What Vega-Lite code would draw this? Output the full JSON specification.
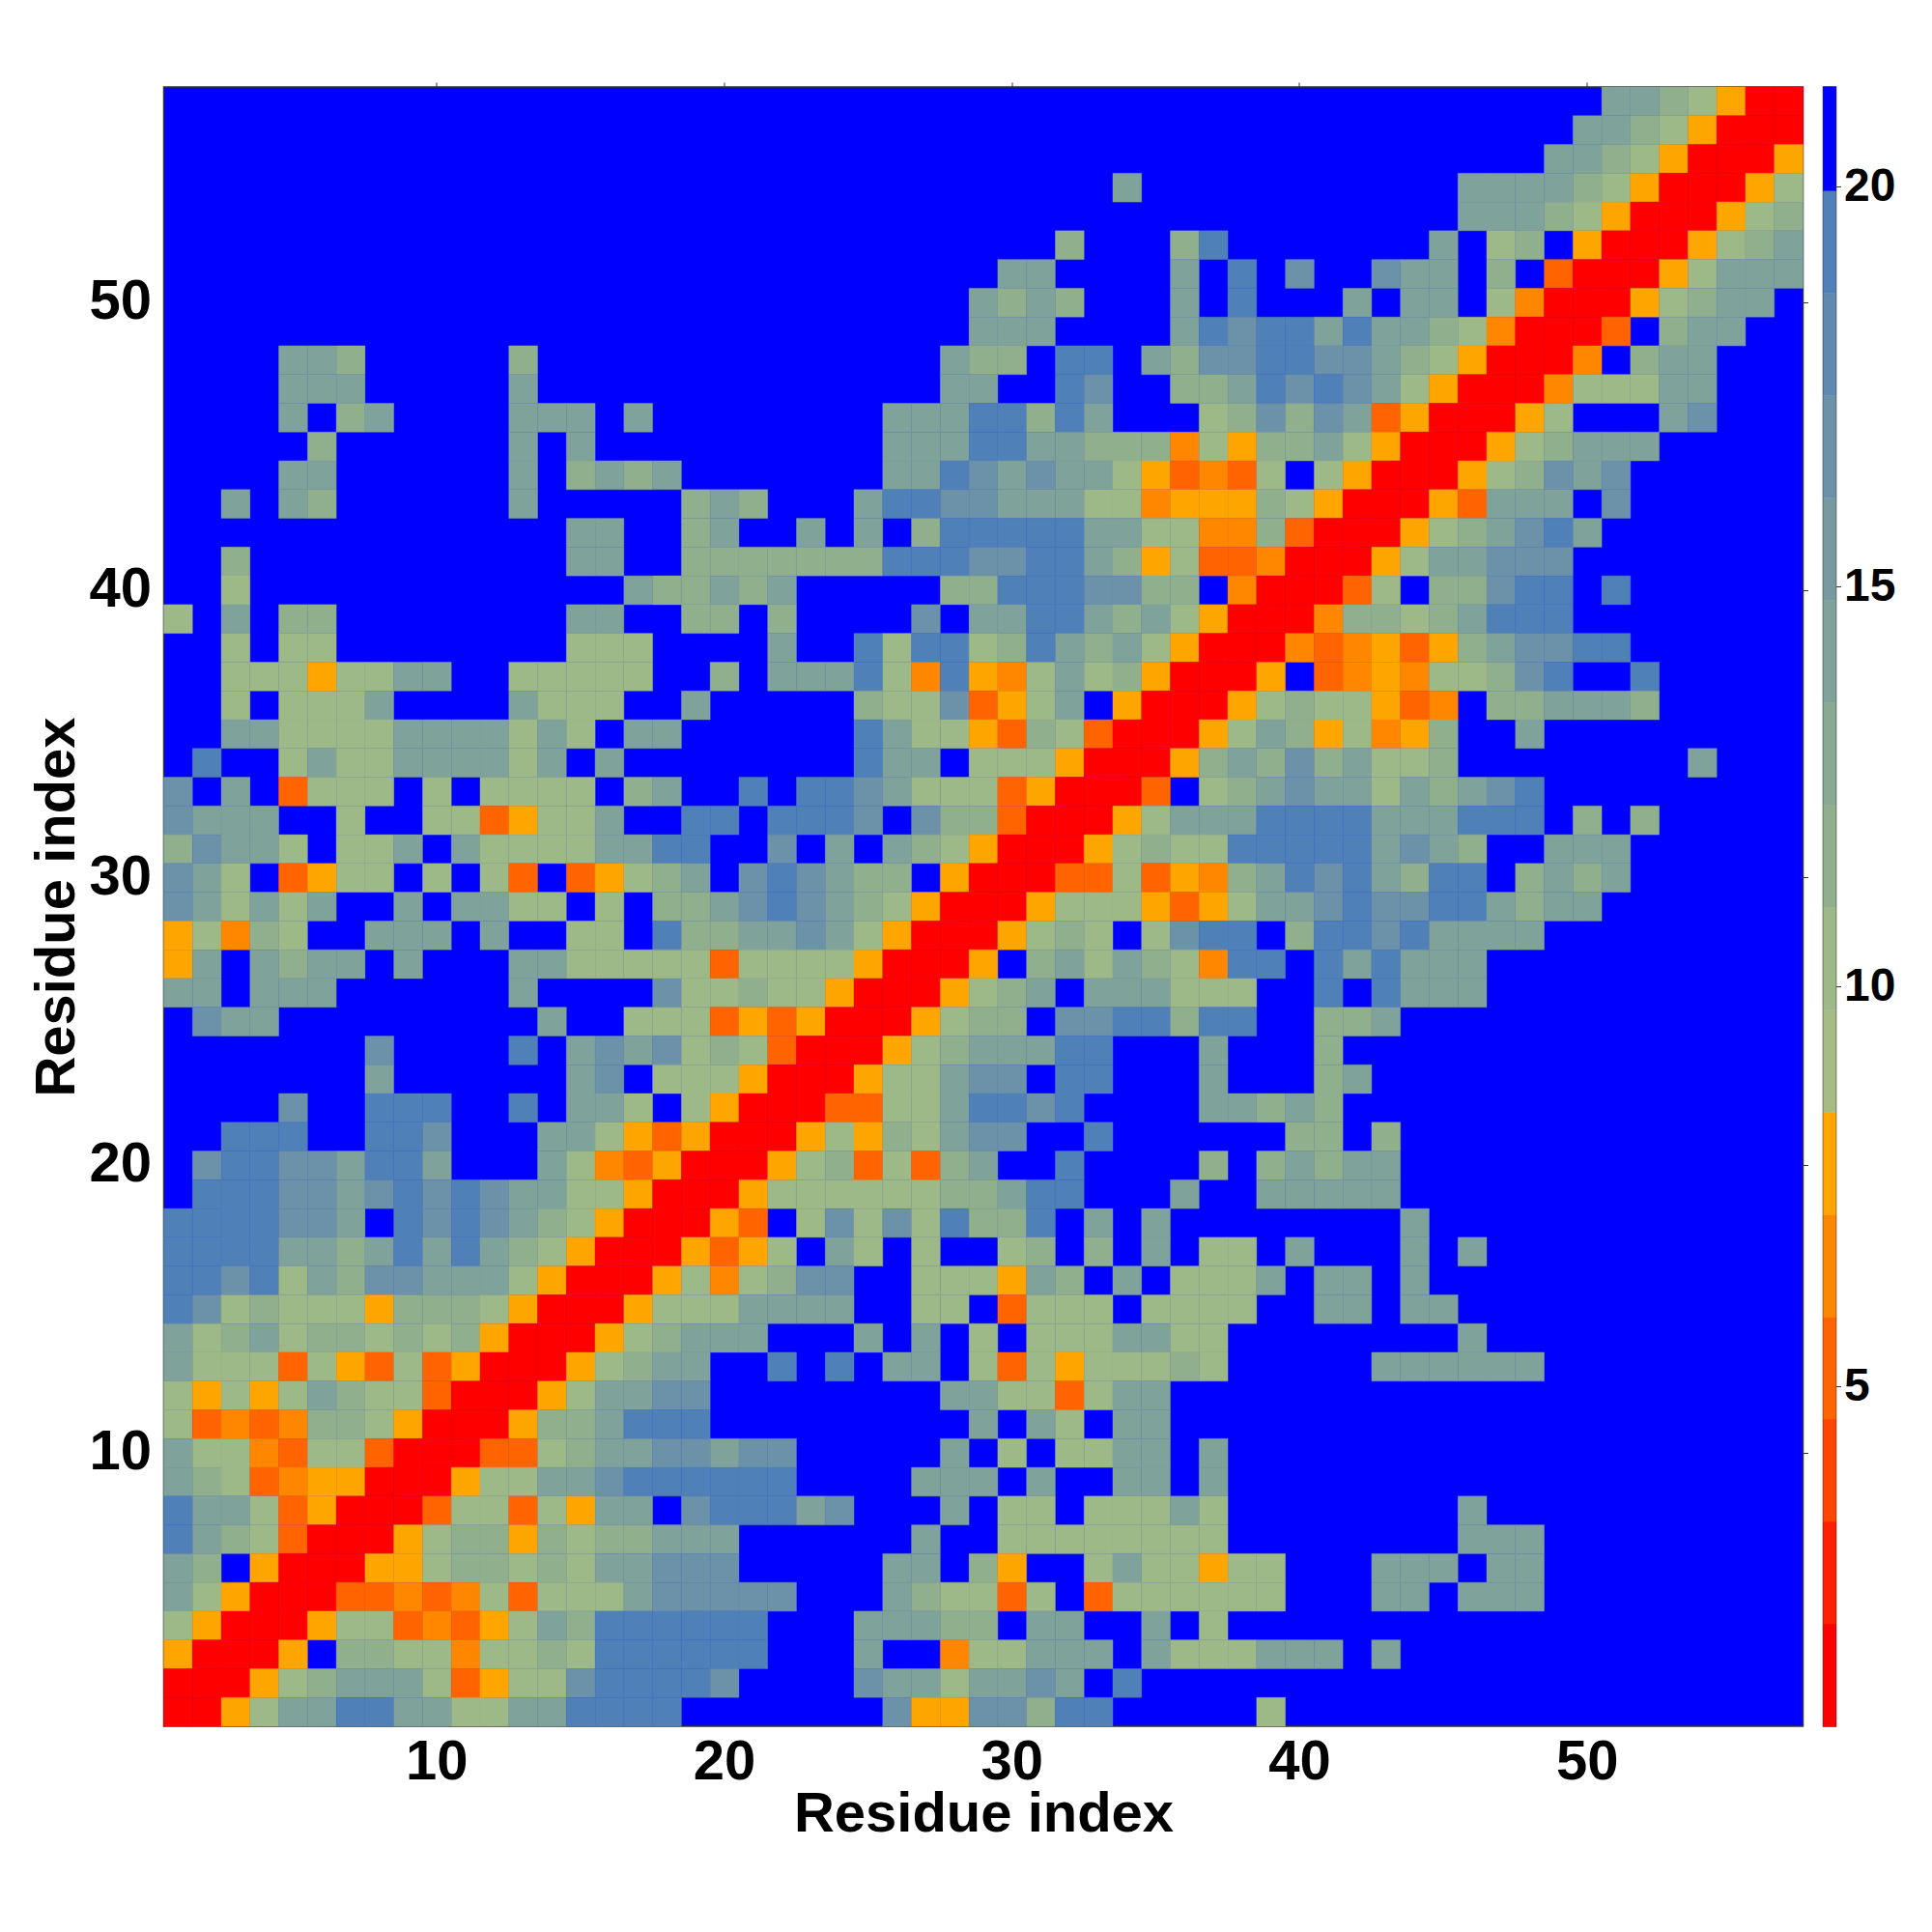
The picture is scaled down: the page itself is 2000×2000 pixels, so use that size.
{"$schema":"https://vega.github.io/schema/vega-lite/v6.json","background":"white","padding":{"left":29.5,"top":83,"right":5,"bottom":5},"config":{"font":"Liberation Sans","concat":{"spacing":13}},"hconcat":[{"width":1697,"height":1697,"view":{"fill":"#0000ff","stroke":"#333333","strokeWidth":1.5},"data":{"values":[
{"x":51,"y":57,"v":14},{"x":52,"y":57,"v":14},{"x":53,"y":57,"v":12},{"x":54,"y":57,"v":10},{"x":55,"y":57,"v":8},{"x":56,"y":57,"v":1},{"x":57,"y":57,"v":1},
{"x":50,"y":56,"v":14},{"x":51,"y":56,"v":14},{"x":52,"y":56,"v":12},{"x":53,"y":56,"v":10},{"x":54,"y":56,"v":8},{"x":55,"y":56,"v":1},{"x":56,"y":56,"v":1},{"x":57,"y":56,"v":1},
{"x":49,"y":55,"v":14},{"x":50,"y":55,"v":14},{"x":51,"y":55,"v":12},{"x":52,"y":55,"v":10},{"x":53,"y":55,"v":8},{"x":54,"y":55,"v":1},{"x":55,"y":55,"v":1},{"x":56,"y":55,"v":1},{"x":57,"y":55,"v":8},
{"x":34,"y":54,"v":14},{"x":46,"y":54,"v":14},{"x":47,"y":54,"v":14},{"x":48,"y":54,"v":14},{"x":49,"y":54,"v":14},{"x":50,"y":54,"v":12},{"x":51,"y":54,"v":10},{"x":52,"y":54,"v":8},{"x":53,"y":54,"v":1},{"x":54,"y":54,"v":1},{"x":55,"y":54,"v":1},{"x":56,"y":54,"v":8},{"x":57,"y":54,"v":10},
{"x":46,"y":53,"v":14},{"x":47,"y":53,"v":14},{"x":48,"y":53,"v":14},{"x":49,"y":53,"v":12},{"x":50,"y":53,"v":10},{"x":51,"y":53,"v":8},{"x":52,"y":53,"v":1},{"x":53,"y":53,"v":1},{"x":54,"y":53,"v":1},{"x":55,"y":53,"v":8},{"x":56,"y":53,"v":10},{"x":57,"y":53,"v":12},
{"x":32,"y":52,"v":12},{"x":36,"y":52,"v":12},{"x":37,"y":52,"v":19},{"x":45,"y":52,"v":14},{"x":47,"y":52,"v":10},{"x":48,"y":52,"v":12},{"x":50,"y":52,"v":8},{"x":51,"y":52,"v":1},{"x":52,"y":52,"v":1},{"x":53,"y":52,"v":1},{"x":54,"y":52,"v":8},{"x":55,"y":52,"v":10},{"x":56,"y":52,"v":12},{"x":57,"y":52,"v":14},
{"x":30,"y":51,"v":14},{"x":31,"y":51,"v":14},{"x":36,"y":51,"v":14},{"x":38,"y":51,"v":19},{"x":40,"y":51,"v":17},{"x":43,"y":51,"v":17},{"x":44,"y":51,"v":14},{"x":45,"y":51,"v":14},{"x":47,"y":51,"v":12},{"x":49,"y":51,"v":5},{"x":50,"y":51,"v":1},{"x":51,"y":51,"v":1},{"x":52,"y":51,"v":1},{"x":53,"y":51,"v":8},{"x":54,"y":51,"v":10},{"x":55,"y":51,"v":14},{"x":56,"y":51,"v":14},{"x":57,"y":51,"v":14},
{"x":29,"y":50,"v":14},{"x":30,"y":50,"v":12},{"x":31,"y":50,"v":14},{"x":32,"y":50,"v":12},{"x":36,"y":50,"v":14},{"x":38,"y":50,"v":19},{"x":42,"y":50,"v":14},{"x":44,"y":50,"v":14},{"x":45,"y":50,"v":14},{"x":47,"y":50,"v":10},{"x":48,"y":50,"v":7},{"x":49,"y":50,"v":1},{"x":50,"y":50,"v":1},{"x":51,"y":50,"v":1},{"x":52,"y":50,"v":8},{"x":53,"y":50,"v":10},{"x":54,"y":50,"v":12},{"x":55,"y":50,"v":14},{"x":56,"y":50,"v":14},
{"x":29,"y":49,"v":14},{"x":30,"y":49,"v":14},{"x":31,"y":49,"v":14},{"x":36,"y":49,"v":14},{"x":37,"y":49,"v":19},{"x":38,"y":49,"v":17},{"x":39,"y":49,"v":19},{"x":40,"y":49,"v":19},{"x":41,"y":49,"v":14},{"x":42,"y":49,"v":19},{"x":43,"y":49,"v":14},{"x":44,"y":49,"v":14},{"x":45,"y":49,"v":12},{"x":46,"y":49,"v":10},{"x":47,"y":49,"v":7},{"x":48,"y":49,"v":1},{"x":49,"y":49,"v":1},{"x":50,"y":49,"v":1},{"x":51,"y":49,"v":5},{"x":53,"y":49,"v":12},{"x":54,"y":49,"v":14},{"x":55,"y":49,"v":14},
{"x":5,"y":48,"v":14},{"x":6,"y":48,"v":14},{"x":7,"y":48,"v":12},{"x":13,"y":48,"v":12},{"x":28,"y":48,"v":14},{"x":29,"y":48,"v":12},{"x":30,"y":48,"v":12},{"x":32,"y":48,"v":19},{"x":33,"y":48,"v":19},{"x":35,"y":48,"v":14},{"x":36,"y":48,"v":12},{"x":37,"y":48,"v":17},{"x":38,"y":48,"v":17},{"x":39,"y":48,"v":19},{"x":40,"y":48,"v":19},{"x":41,"y":48,"v":17},{"x":42,"y":48,"v":17},{"x":43,"y":48,"v":14},{"x":44,"y":48,"v":12},{"x":45,"y":48,"v":10},{"x":46,"y":48,"v":8},{"x":47,"y":48,"v":1},{"x":48,"y":48,"v":1},{"x":49,"y":48,"v":1},{"x":50,"y":48,"v":7},{"x":52,"y":48,"v":12},{"x":53,"y":48,"v":14},{"x":54,"y":48,"v":14},
{"x":5,"y":47,"v":14},{"x":6,"y":47,"v":14},{"x":7,"y":47,"v":14},{"x":13,"y":47,"v":14},{"x":28,"y":47,"v":14},{"x":29,"y":47,"v":14},{"x":32,"y":47,"v":19},{"x":33,"y":47,"v":17},{"x":36,"y":47,"v":12},{"x":37,"y":47,"v":12},{"x":38,"y":47,"v":14},{"x":39,"y":47,"v":19},{"x":40,"y":47,"v":17},{"x":41,"y":47,"v":19},{"x":42,"y":47,"v":17},{"x":43,"y":47,"v":14},{"x":44,"y":47,"v":10},{"x":45,"y":47,"v":8},{"x":46,"y":47,"v":1},{"x":47,"y":47,"v":1},{"x":48,"y":47,"v":1},{"x":49,"y":47,"v":7},{"x":50,"y":47,"v":10},{"x":51,"y":47,"v":10},{"x":52,"y":47,"v":10},{"x":53,"y":47,"v":14},{"x":54,"y":47,"v":14},
{"x":5,"y":46,"v":14},{"x":7,"y":46,"v":12},{"x":8,"y":46,"v":14},{"x":13,"y":46,"v":14},{"x":14,"y":46,"v":14},{"x":15,"y":46,"v":14},{"x":17,"y":46,"v":14},{"x":26,"y":46,"v":14},{"x":27,"y":46,"v":14},{"x":28,"y":46,"v":14},{"x":29,"y":46,"v":19},{"x":30,"y":46,"v":19},{"x":31,"y":46,"v":12},{"x":32,"y":46,"v":19},{"x":33,"y":46,"v":14},{"x":37,"y":46,"v":10},{"x":38,"y":46,"v":12},{"x":39,"y":46,"v":17},{"x":40,"y":46,"v":12},{"x":41,"y":46,"v":17},{"x":42,"y":46,"v":14},{"x":43,"y":46,"v":5},{"x":44,"y":46,"v":8},{"x":45,"y":46,"v":1},{"x":46,"y":46,"v":1},{"x":47,"y":46,"v":1},{"x":48,"y":46,"v":8},{"x":49,"y":46,"v":10},{"x":53,"y":46,"v":14},{"x":54,"y":46,"v":17},
{"x":6,"y":45,"v":12},{"x":13,"y":45,"v":14},{"x":15,"y":45,"v":14},{"x":26,"y":45,"v":14},{"x":27,"y":45,"v":14},{"x":28,"y":45,"v":14},{"x":29,"y":45,"v":19},{"x":30,"y":45,"v":19},{"x":31,"y":45,"v":14},{"x":32,"y":45,"v":14},{"x":33,"y":45,"v":12},{"x":34,"y":45,"v":12},{"x":35,"y":45,"v":12},{"x":36,"y":45,"v":7},{"x":37,"y":45,"v":10},{"x":38,"y":45,"v":8},{"x":39,"y":45,"v":12},{"x":40,"y":45,"v":12},{"x":41,"y":45,"v":14},{"x":42,"y":45,"v":10},{"x":43,"y":45,"v":8},{"x":44,"y":45,"v":1},{"x":45,"y":45,"v":1},{"x":46,"y":45,"v":1},{"x":47,"y":45,"v":8},{"x":48,"y":45,"v":10},{"x":49,"y":45,"v":12},{"x":50,"y":45,"v":14},{"x":51,"y":45,"v":14},{"x":52,"y":45,"v":14},
{"x":5,"y":44,"v":14},{"x":6,"y":44,"v":14},{"x":13,"y":44,"v":14},{"x":15,"y":44,"v":12},{"x":16,"y":44,"v":14},{"x":17,"y":44,"v":12},{"x":18,"y":44,"v":14},{"x":26,"y":44,"v":14},{"x":27,"y":44,"v":14},{"x":28,"y":44,"v":19},{"x":29,"y":44,"v":17},{"x":30,"y":44,"v":14},{"x":31,"y":44,"v":17},{"x":32,"y":44,"v":14},{"x":33,"y":44,"v":14},{"x":34,"y":44,"v":10},{"x":35,"y":44,"v":8},{"x":36,"y":44,"v":5},{"x":37,"y":44,"v":7},{"x":38,"y":44,"v":5},{"x":39,"y":44,"v":10},{"x":41,"y":44,"v":10},{"x":42,"y":44,"v":8},{"x":43,"y":44,"v":1},{"x":44,"y":44,"v":1},{"x":45,"y":44,"v":1},{"x":46,"y":44,"v":8},{"x":47,"y":44,"v":10},{"x":48,"y":44,"v":12},{"x":49,"y":44,"v":17},{"x":50,"y":44,"v":14},{"x":51,"y":44,"v":17},
{"x":3,"y":43,"v":14},{"x":5,"y":43,"v":14},{"x":6,"y":43,"v":12},{"x":13,"y":43,"v":14},{"x":19,"y":43,"v":12},{"x":20,"y":43,"v":14},{"x":21,"y":43,"v":12},{"x":25,"y":43,"v":14},{"x":26,"y":43,"v":19},{"x":27,"y":43,"v":19},{"x":28,"y":43,"v":17},{"x":29,"y":43,"v":17},{"x":30,"y":43,"v":14},{"x":31,"y":43,"v":14},{"x":32,"y":43,"v":14},{"x":33,"y":43,"v":10},{"x":34,"y":43,"v":10},{"x":35,"y":43,"v":7},{"x":36,"y":43,"v":8},{"x":37,"y":43,"v":8},{"x":38,"y":43,"v":8},{"x":39,"y":43,"v":12},{"x":40,"y":43,"v":10},{"x":41,"y":43,"v":8},{"x":42,"y":43,"v":1},{"x":43,"y":43,"v":1},{"x":44,"y":43,"v":1},{"x":45,"y":43,"v":8},{"x":46,"y":43,"v":5},{"x":47,"y":43,"v":14},{"x":48,"y":43,"v":14},{"x":49,"y":43,"v":14},{"x":51,"y":43,"v":17},
{"x":15,"y":42,"v":14},{"x":16,"y":42,"v":14},{"x":19,"y":42,"v":12},{"x":20,"y":42,"v":14},{"x":23,"y":42,"v":14},{"x":25,"y":42,"v":14},{"x":27,"y":42,"v":12},{"x":28,"y":42,"v":19},{"x":29,"y":42,"v":19},{"x":30,"y":42,"v":19},{"x":31,"y":42,"v":19},{"x":32,"y":42,"v":19},{"x":33,"y":42,"v":14},{"x":34,"y":42,"v":14},{"x":35,"y":42,"v":10},{"x":36,"y":42,"v":10},{"x":37,"y":42,"v":7},{"x":38,"y":42,"v":7},{"x":39,"y":42,"v":12},{"x":40,"y":42,"v":5},{"x":41,"y":42,"v":1},{"x":42,"y":42,"v":1},{"x":43,"y":42,"v":1},{"x":44,"y":42,"v":8},{"x":45,"y":42,"v":10},{"x":46,"y":42,"v":12},{"x":47,"y":42,"v":14},{"x":48,"y":42,"v":17},{"x":49,"y":42,"v":19},{"x":50,"y":42,"v":14},
{"x":3,"y":41,"v":12},{"x":15,"y":41,"v":14},{"x":16,"y":41,"v":14},{"x":19,"y":41,"v":12},{"x":20,"y":41,"v":12},{"x":21,"y":41,"v":12},{"x":22,"y":41,"v":12},{"x":23,"y":41,"v":12},{"x":24,"y":41,"v":12},{"x":25,"y":41,"v":12},{"x":26,"y":41,"v":19},{"x":27,"y":41,"v":19},{"x":28,"y":41,"v":19},{"x":29,"y":41,"v":17},{"x":30,"y":41,"v":17},{"x":31,"y":41,"v":19},{"x":32,"y":41,"v":19},{"x":33,"y":41,"v":14},{"x":34,"y":41,"v":12},{"x":35,"y":41,"v":8},{"x":36,"y":41,"v":10},{"x":37,"y":41,"v":5},{"x":38,"y":41,"v":5},{"x":39,"y":41,"v":7},{"x":40,"y":41,"v":1},{"x":41,"y":41,"v":1},{"x":42,"y":41,"v":1},{"x":43,"y":41,"v":8},{"x":44,"y":41,"v":10},{"x":45,"y":41,"v":14},{"x":46,"y":41,"v":14},{"x":47,"y":41,"v":17},{"x":48,"y":41,"v":17},{"x":49,"y":41,"v":17},
{"x":3,"y":40,"v":10},{"x":17,"y":40,"v":14},{"x":18,"y":40,"v":12},{"x":19,"y":40,"v":12},{"x":20,"y":40,"v":14},{"x":21,"y":40,"v":12},{"x":22,"y":40,"v":14},{"x":28,"y":40,"v":12},{"x":29,"y":40,"v":12},{"x":30,"y":40,"v":19},{"x":31,"y":40,"v":19},{"x":32,"y":40,"v":19},{"x":33,"y":40,"v":17},{"x":34,"y":40,"v":17},{"x":35,"y":40,"v":12},{"x":36,"y":40,"v":12},{"x":38,"y":40,"v":7},{"x":39,"y":40,"v":1},{"x":40,"y":40,"v":1},{"x":41,"y":40,"v":1},{"x":42,"y":40,"v":5},{"x":43,"y":40,"v":10},{"x":45,"y":40,"v":12},{"x":46,"y":40,"v":12},{"x":47,"y":40,"v":17},{"x":48,"y":40,"v":19},{"x":49,"y":40,"v":19},{"x":51,"y":40,"v":19},
{"x":1,"y":39,"v":10},{"x":3,"y":39,"v":14},{"x":5,"y":39,"v":12},{"x":6,"y":39,"v":12},{"x":15,"y":39,"v":14},{"x":16,"y":39,"v":14},{"x":19,"y":39,"v":12},{"x":20,"y":39,"v":12},{"x":22,"y":39,"v":12},{"x":27,"y":39,"v":17},{"x":29,"y":39,"v":14},{"x":30,"y":39,"v":14},{"x":31,"y":39,"v":19},{"x":32,"y":39,"v":19},{"x":33,"y":39,"v":14},{"x":34,"y":39,"v":12},{"x":35,"y":39,"v":14},{"x":36,"y":39,"v":10},{"x":37,"y":39,"v":8},{"x":38,"y":39,"v":1},{"x":39,"y":39,"v":1},{"x":40,"y":39,"v":1},{"x":41,"y":39,"v":7},{"x":42,"y":39,"v":12},{"x":43,"y":39,"v":12},{"x":44,"y":39,"v":10},{"x":45,"y":39,"v":12},{"x":46,"y":39,"v":14},{"x":47,"y":39,"v":19},{"x":48,"y":39,"v":19},{"x":49,"y":39,"v":19},
{"x":3,"y":38,"v":10},{"x":5,"y":38,"v":10},{"x":6,"y":38,"v":10},{"x":15,"y":38,"v":10},{"x":16,"y":38,"v":10},{"x":17,"y":38,"v":10},{"x":22,"y":38,"v":14},{"x":25,"y":38,"v":19},{"x":26,"y":38,"v":10},{"x":27,"y":38,"v":19},{"x":28,"y":38,"v":19},{"x":29,"y":38,"v":10},{"x":30,"y":38,"v":12},{"x":31,"y":38,"v":19},{"x":32,"y":38,"v":14},{"x":33,"y":38,"v":12},{"x":34,"y":38,"v":14},{"x":35,"y":38,"v":10},{"x":36,"y":38,"v":8},{"x":37,"y":38,"v":1},{"x":38,"y":38,"v":1},{"x":39,"y":38,"v":1},{"x":40,"y":38,"v":7},{"x":41,"y":38,"v":5},{"x":42,"y":38,"v":7},{"x":43,"y":38,"v":8},{"x":44,"y":38,"v":5},{"x":45,"y":38,"v":8},{"x":46,"y":38,"v":12},{"x":47,"y":38,"v":14},{"x":48,"y":38,"v":17},{"x":49,"y":38,"v":17},{"x":50,"y":38,"v":19},{"x":51,"y":38,"v":19},
{"x":3,"y":37,"v":10},{"x":4,"y":37,"v":10},{"x":5,"y":37,"v":10},{"x":6,"y":37,"v":8},{"x":7,"y":37,"v":10},{"x":8,"y":37,"v":10},{"x":9,"y":37,"v":14},{"x":10,"y":37,"v":14},{"x":13,"y":37,"v":10},{"x":14,"y":37,"v":10},{"x":15,"y":37,"v":10},{"x":16,"y":37,"v":10},{"x":17,"y":37,"v":10},{"x":20,"y":37,"v":12},{"x":22,"y":37,"v":14},{"x":23,"y":37,"v":14},{"x":24,"y":37,"v":14},{"x":25,"y":37,"v":19},{"x":26,"y":37,"v":10},{"x":27,"y":37,"v":7},{"x":28,"y":37,"v":19},{"x":29,"y":37,"v":8},{"x":30,"y":37,"v":7},{"x":31,"y":37,"v":10},{"x":32,"y":37,"v":14},{"x":33,"y":37,"v":10},{"x":34,"y":37,"v":12},{"x":35,"y":37,"v":8},{"x":36,"y":37,"v":1},{"x":37,"y":37,"v":1},{"x":38,"y":37,"v":1},{"x":39,"y":37,"v":8},{"x":41,"y":37,"v":5},{"x":42,"y":37,"v":7},{"x":43,"y":37,"v":8},{"x":44,"y":37,"v":7},{"x":45,"y":37,"v":10},{"x":46,"y":37,"v":10},{"x":47,"y":37,"v":12},{"x":48,"y":37,"v":17},{"x":49,"y":37,"v":19},{"x":52,"y":37,"v":19},
{"x":3,"y":36,"v":10},{"x":5,"y":36,"v":10},{"x":6,"y":36,"v":10},{"x":7,"y":36,"v":10},{"x":8,"y":36,"v":14},{"x":13,"y":36,"v":14},{"x":14,"y":36,"v":10},{"x":15,"y":36,"v":10},{"x":16,"y":36,"v":10},{"x":19,"y":36,"v":14},{"x":25,"y":36,"v":12},{"x":26,"y":36,"v":10},{"x":27,"y":36,"v":10},{"x":28,"y":36,"v":17},{"x":29,"y":36,"v":5},{"x":30,"y":36,"v":8},{"x":31,"y":36,"v":10},{"x":32,"y":36,"v":14},{"x":34,"y":36,"v":8},{"x":35,"y":36,"v":1},{"x":36,"y":36,"v":1},{"x":37,"y":36,"v":1},{"x":38,"y":36,"v":8},{"x":39,"y":36,"v":10},{"x":40,"y":36,"v":12},{"x":41,"y":36,"v":10},{"x":42,"y":36,"v":10},{"x":43,"y":36,"v":8},{"x":44,"y":36,"v":5},{"x":45,"y":36,"v":7},{"x":47,"y":36,"v":12},{"x":48,"y":36,"v":12},{"x":49,"y":36,"v":14},{"x":50,"y":36,"v":14},{"x":51,"y":36,"v":14},{"x":52,"y":36,"v":12},
{"x":3,"y":35,"v":14},{"x":4,"y":35,"v":14},{"x":5,"y":35,"v":10},{"x":6,"y":35,"v":10},{"x":7,"y":35,"v":10},{"x":8,"y":35,"v":10},{"x":9,"y":35,"v":14},{"x":10,"y":35,"v":14},{"x":11,"y":35,"v":14},{"x":12,"y":35,"v":14},{"x":13,"y":35,"v":10},{"x":14,"y":35,"v":14},{"x":15,"y":35,"v":10},{"x":17,"y":35,"v":14},{"x":18,"y":35,"v":14},{"x":25,"y":35,"v":19},{"x":26,"y":35,"v":14},{"x":27,"y":35,"v":10},{"x":28,"y":35,"v":10},{"x":29,"y":35,"v":8},{"x":30,"y":35,"v":5},{"x":31,"y":35,"v":12},{"x":32,"y":35,"v":10},{"x":33,"y":35,"v":5},{"x":34,"y":35,"v":1},{"x":35,"y":35,"v":1},{"x":36,"y":35,"v":1},{"x":37,"y":35,"v":8},{"x":38,"y":35,"v":10},{"x":39,"y":35,"v":14},{"x":40,"y":35,"v":12},{"x":41,"y":35,"v":8},{"x":42,"y":35,"v":10},{"x":43,"y":35,"v":7},{"x":44,"y":35,"v":8},{"x":45,"y":35,"v":12},{"x":48,"y":35,"v":14},
{"x":2,"y":34,"v":19},{"x":5,"y":34,"v":10},{"x":6,"y":34,"v":14},{"x":7,"y":34,"v":10},{"x":8,"y":34,"v":10},{"x":9,"y":34,"v":14},{"x":10,"y":34,"v":14},{"x":11,"y":34,"v":14},{"x":12,"y":34,"v":14},{"x":13,"y":34,"v":10},{"x":14,"y":34,"v":14},{"x":16,"y":34,"v":14},{"x":25,"y":34,"v":19},{"x":26,"y":34,"v":14},{"x":27,"y":34,"v":14},{"x":29,"y":34,"v":10},{"x":30,"y":34,"v":10},{"x":31,"y":34,"v":10},{"x":32,"y":34,"v":8},{"x":33,"y":34,"v":1},{"x":34,"y":34,"v":1},{"x":35,"y":34,"v":1},{"x":36,"y":34,"v":8},{"x":37,"y":34,"v":12},{"x":38,"y":34,"v":14},{"x":39,"y":34,"v":12},{"x":40,"y":34,"v":17},{"x":41,"y":34,"v":12},{"x":42,"y":34,"v":14},{"x":43,"y":34,"v":10},{"x":44,"y":34,"v":10},{"x":45,"y":34,"v":12},{"x":54,"y":34,"v":14},
{"x":1,"y":33,"v":17},{"x":3,"y":33,"v":14},{"x":5,"y":33,"v":5},{"x":6,"y":33,"v":10},{"x":7,"y":33,"v":10},{"x":8,"y":33,"v":10},{"x":10,"y":33,"v":10},{"x":12,"y":33,"v":10},{"x":13,"y":33,"v":10},{"x":14,"y":33,"v":10},{"x":15,"y":33,"v":10},{"x":17,"y":33,"v":12},{"x":18,"y":33,"v":14},{"x":21,"y":33,"v":19},{"x":23,"y":33,"v":19},{"x":24,"y":33,"v":19},{"x":25,"y":33,"v":17},{"x":26,"y":33,"v":14},{"x":27,"y":33,"v":10},{"x":28,"y":33,"v":10},{"x":29,"y":33,"v":10},{"x":30,"y":33,"v":5},{"x":31,"y":33,"v":8},{"x":32,"y":33,"v":1},{"x":33,"y":33,"v":1},{"x":34,"y":33,"v":1},{"x":35,"y":33,"v":5},{"x":37,"y":33,"v":10},{"x":38,"y":33,"v":12},{"x":39,"y":33,"v":14},{"x":40,"y":33,"v":17},{"x":41,"y":33,"v":14},{"x":42,"y":33,"v":14},{"x":43,"y":33,"v":10},{"x":44,"y":33,"v":14},{"x":45,"y":33,"v":12},{"x":46,"y":33,"v":14},{"x":47,"y":33,"v":17},{"x":48,"y":33,"v":19},
{"x":1,"y":32,"v":17},{"x":2,"y":32,"v":14},{"x":3,"y":32,"v":14},{"x":4,"y":32,"v":14},{"x":7,"y":32,"v":10},{"x":10,"y":32,"v":10},{"x":11,"y":32,"v":10},{"x":12,"y":32,"v":5},{"x":13,"y":32,"v":8},{"x":14,"y":32,"v":10},{"x":15,"y":32,"v":10},{"x":16,"y":32,"v":14},{"x":19,"y":32,"v":19},{"x":20,"y":32,"v":19},{"x":22,"y":32,"v":19},{"x":23,"y":32,"v":19},{"x":24,"y":32,"v":19},{"x":25,"y":32,"v":17},{"x":27,"y":32,"v":17},{"x":28,"y":32,"v":12},{"x":29,"y":32,"v":12},{"x":30,"y":32,"v":5},{"x":31,"y":32,"v":1},{"x":32,"y":32,"v":1},{"x":33,"y":32,"v":1},{"x":34,"y":32,"v":8},{"x":35,"y":32,"v":10},{"x":36,"y":32,"v":14},{"x":37,"y":32,"v":14},{"x":38,"y":32,"v":14},{"x":39,"y":32,"v":19},{"x":40,"y":32,"v":19},{"x":41,"y":32,"v":19},{"x":42,"y":32,"v":19},{"x":43,"y":32,"v":14},{"x":44,"y":32,"v":14},{"x":45,"y":32,"v":14},{"x":46,"y":32,"v":19},{"x":47,"y":32,"v":19},{"x":48,"y":32,"v":19},{"x":50,"y":32,"v":12},{"x":52,"y":32,"v":12},
{"x":1,"y":31,"v":12},{"x":2,"y":31,"v":17},{"x":3,"y":31,"v":14},{"x":4,"y":31,"v":14},{"x":5,"y":31,"v":10},{"x":7,"y":31,"v":10},{"x":8,"y":31,"v":10},{"x":9,"y":31,"v":14},{"x":11,"y":31,"v":14},{"x":12,"y":31,"v":10},{"x":13,"y":31,"v":10},{"x":14,"y":31,"v":10},{"x":15,"y":31,"v":10},{"x":16,"y":31,"v":14},{"x":17,"y":31,"v":14},{"x":18,"y":31,"v":19},{"x":19,"y":31,"v":19},{"x":22,"y":31,"v":17},{"x":24,"y":31,"v":14},{"x":26,"y":31,"v":14},{"x":27,"y":31,"v":12},{"x":28,"y":31,"v":10},{"x":29,"y":31,"v":8},{"x":30,"y":31,"v":1},{"x":31,"y":31,"v":1},{"x":32,"y":31,"v":1},{"x":33,"y":31,"v":8},{"x":34,"y":31,"v":10},{"x":35,"y":31,"v":12},{"x":36,"y":31,"v":10},{"x":37,"y":31,"v":10},{"x":38,"y":31,"v":19},{"x":39,"y":31,"v":19},{"x":40,"y":31,"v":19},{"x":41,"y":31,"v":19},{"x":42,"y":31,"v":19},{"x":43,"y":31,"v":14},{"x":44,"y":31,"v":17},{"x":45,"y":31,"v":14},{"x":46,"y":31,"v":12},{"x":49,"y":31,"v":14},{"x":50,"y":31,"v":14},{"x":51,"y":31,"v":14},
{"x":1,"y":30,"v":17},{"x":2,"y":30,"v":14},{"x":3,"y":30,"v":10},{"x":5,"y":30,"v":5},{"x":6,"y":30,"v":8},{"x":7,"y":30,"v":10},{"x":8,"y":30,"v":10},{"x":10,"y":30,"v":10},{"x":12,"y":30,"v":10},{"x":13,"y":30,"v":5},{"x":15,"y":30,"v":5},{"x":16,"y":30,"v":8},{"x":17,"y":30,"v":10},{"x":18,"y":30,"v":12},{"x":19,"y":30,"v":14},{"x":21,"y":30,"v":17},{"x":22,"y":30,"v":19},{"x":23,"y":30,"v":17},{"x":24,"y":30,"v":14},{"x":25,"y":30,"v":12},{"x":26,"y":30,"v":12},{"x":28,"y":30,"v":8},{"x":29,"y":30,"v":1},{"x":30,"y":30,"v":1},{"x":31,"y":30,"v":1},{"x":32,"y":30,"v":5},{"x":33,"y":30,"v":5},{"x":34,"y":30,"v":10},{"x":35,"y":30,"v":5},{"x":36,"y":30,"v":8},{"x":37,"y":30,"v":7},{"x":38,"y":30,"v":12},{"x":39,"y":30,"v":14},{"x":40,"y":30,"v":19},{"x":41,"y":30,"v":17},{"x":42,"y":30,"v":19},{"x":43,"y":30,"v":14},{"x":44,"y":30,"v":12},{"x":45,"y":30,"v":19},{"x":46,"y":30,"v":19},{"x":48,"y":30,"v":12},{"x":49,"y":30,"v":14},{"x":50,"y":30,"v":12},{"x":51,"y":30,"v":14},
{"x":1,"y":29,"v":17},{"x":2,"y":29,"v":14},{"x":3,"y":29,"v":10},{"x":4,"y":29,"v":14},{"x":5,"y":29,"v":10},{"x":6,"y":29,"v":14},{"x":9,"y":29,"v":14},{"x":11,"y":29,"v":14},{"x":12,"y":29,"v":14},{"x":13,"y":29,"v":10},{"x":14,"y":29,"v":10},{"x":16,"y":29,"v":10},{"x":18,"y":29,"v":12},{"x":19,"y":29,"v":12},{"x":20,"y":29,"v":14},{"x":21,"y":29,"v":17},{"x":22,"y":29,"v":19},{"x":23,"y":29,"v":17},{"x":24,"y":29,"v":14},{"x":25,"y":29,"v":12},{"x":26,"y":29,"v":10},{"x":27,"y":29,"v":8},{"x":28,"y":29,"v":1},{"x":29,"y":29,"v":1},{"x":30,"y":29,"v":1},{"x":31,"y":29,"v":8},{"x":32,"y":29,"v":10},{"x":33,"y":29,"v":10},{"x":34,"y":29,"v":10},{"x":35,"y":29,"v":8},{"x":36,"y":29,"v":5},{"x":37,"y":29,"v":8},{"x":38,"y":29,"v":10},{"x":39,"y":29,"v":14},{"x":40,"y":29,"v":14},{"x":41,"y":29,"v":17},{"x":42,"y":29,"v":19},{"x":43,"y":29,"v":17},{"x":44,"y":29,"v":17},{"x":45,"y":29,"v":19},{"x":46,"y":29,"v":19},{"x":47,"y":29,"v":14},{"x":48,"y":29,"v":12},{"x":49,"y":29,"v":14},{"x":50,"y":29,"v":14},
{"x":1,"y":28,"v":8},{"x":2,"y":28,"v":10},{"x":3,"y":28,"v":7},{"x":4,"y":28,"v":12},{"x":5,"y":28,"v":10},{"x":8,"y":28,"v":14},{"x":9,"y":28,"v":14},{"x":10,"y":28,"v":14},{"x":12,"y":28,"v":14},{"x":15,"y":28,"v":10},{"x":16,"y":28,"v":10},{"x":18,"y":28,"v":19},{"x":19,"y":28,"v":12},{"x":20,"y":28,"v":12},{"x":21,"y":28,"v":14},{"x":22,"y":28,"v":14},{"x":23,"y":28,"v":17},{"x":24,"y":28,"v":14},{"x":25,"y":28,"v":10},{"x":26,"y":28,"v":8},{"x":27,"y":28,"v":1},{"x":28,"y":28,"v":1},{"x":29,"y":28,"v":1},{"x":30,"y":28,"v":8},{"x":31,"y":28,"v":10},{"x":32,"y":28,"v":12},{"x":33,"y":28,"v":10},{"x":35,"y":28,"v":10},{"x":36,"y":28,"v":17},{"x":37,"y":28,"v":19},{"x":38,"y":28,"v":19},{"x":40,"y":28,"v":12},{"x":41,"y":28,"v":19},{"x":42,"y":28,"v":19},{"x":43,"y":28,"v":17},{"x":44,"y":28,"v":19},{"x":45,"y":28,"v":14},{"x":46,"y":28,"v":14},{"x":47,"y":28,"v":14},{"x":48,"y":28,"v":14},
{"x":1,"y":27,"v":8},{"x":2,"y":27,"v":14},{"x":4,"y":27,"v":14},{"x":5,"y":27,"v":12},{"x":6,"y":27,"v":14},{"x":7,"y":27,"v":14},{"x":9,"y":27,"v":14},{"x":13,"y":27,"v":14},{"x":14,"y":27,"v":14},{"x":15,"y":27,"v":10},{"x":16,"y":27,"v":10},{"x":17,"y":27,"v":10},{"x":18,"y":27,"v":10},{"x":19,"y":27,"v":10},{"x":20,"y":27,"v":5},{"x":21,"y":27,"v":10},{"x":22,"y":27,"v":10},{"x":23,"y":27,"v":10},{"x":24,"y":27,"v":10},{"x":25,"y":27,"v":8},{"x":26,"y":27,"v":1},{"x":27,"y":27,"v":1},{"x":28,"y":27,"v":1},{"x":29,"y":27,"v":8},{"x":31,"y":27,"v":12},{"x":32,"y":27,"v":14},{"x":33,"y":27,"v":10},{"x":34,"y":27,"v":14},{"x":35,"y":27,"v":12},{"x":36,"y":27,"v":10},{"x":37,"y":27,"v":7},{"x":38,"y":27,"v":19},{"x":39,"y":27,"v":19},{"x":41,"y":27,"v":19},{"x":42,"y":27,"v":14},{"x":43,"y":27,"v":19},{"x":44,"y":27,"v":14},{"x":45,"y":27,"v":14},{"x":46,"y":27,"v":14},
{"x":1,"y":26,"v":14},{"x":2,"y":26,"v":14},{"x":4,"y":26,"v":14},{"x":5,"y":26,"v":14},{"x":6,"y":26,"v":14},{"x":13,"y":26,"v":14},{"x":18,"y":26,"v":17},{"x":19,"y":26,"v":10},{"x":20,"y":26,"v":10},{"x":21,"y":26,"v":12},{"x":22,"y":26,"v":10},{"x":23,"y":26,"v":10},{"x":24,"y":26,"v":8},{"x":25,"y":26,"v":1},{"x":26,"y":26,"v":1},{"x":27,"y":26,"v":1},{"x":28,"y":26,"v":8},{"x":29,"y":26,"v":10},{"x":30,"y":26,"v":12},{"x":31,"y":26,"v":14},{"x":33,"y":26,"v":14},{"x":34,"y":26,"v":14},{"x":35,"y":26,"v":14},{"x":36,"y":26,"v":10},{"x":37,"y":26,"v":10},{"x":38,"y":26,"v":10},{"x":41,"y":26,"v":19},{"x":43,"y":26,"v":19},{"x":44,"y":26,"v":14},{"x":45,"y":26,"v":14},{"x":46,"y":26,"v":14},
{"x":2,"y":25,"v":17},{"x":3,"y":25,"v":14},{"x":4,"y":25,"v":14},{"x":14,"y":25,"v":14},{"x":17,"y":25,"v":10},{"x":18,"y":25,"v":10},{"x":19,"y":25,"v":10},{"x":20,"y":25,"v":5},{"x":21,"y":25,"v":8},{"x":22,"y":25,"v":5},{"x":23,"y":25,"v":8},{"x":24,"y":25,"v":1},{"x":25,"y":25,"v":1},{"x":26,"y":25,"v":1},{"x":27,"y":25,"v":8},{"x":28,"y":25,"v":10},{"x":29,"y":25,"v":12},{"x":30,"y":25,"v":12},{"x":32,"y":25,"v":17},{"x":33,"y":25,"v":17},{"x":34,"y":25,"v":19},{"x":35,"y":25,"v":19},{"x":36,"y":25,"v":12},{"x":37,"y":25,"v":19},{"x":38,"y":25,"v":19},{"x":41,"y":25,"v":12},{"x":42,"y":25,"v":12},{"x":43,"y":25,"v":14},
{"x":8,"y":24,"v":17},{"x":13,"y":24,"v":19},{"x":15,"y":24,"v":14},{"x":16,"y":24,"v":17},{"x":17,"y":24,"v":14},{"x":18,"y":24,"v":17},{"x":19,"y":24,"v":10},{"x":20,"y":24,"v":12},{"x":21,"y":24,"v":10},{"x":22,"y":24,"v":5},{"x":23,"y":24,"v":1},{"x":24,"y":24,"v":1},{"x":25,"y":24,"v":1},{"x":26,"y":24,"v":8},{"x":27,"y":24,"v":10},{"x":28,"y":24,"v":12},{"x":29,"y":24,"v":14},{"x":30,"y":24,"v":14},{"x":31,"y":24,"v":14},{"x":32,"y":24,"v":19},{"x":33,"y":24,"v":19},{"x":37,"y":24,"v":14},{"x":41,"y":24,"v":12},
{"x":8,"y":23,"v":14},{"x":15,"y":23,"v":14},{"x":16,"y":23,"v":17},{"x":18,"y":23,"v":10},{"x":19,"y":23,"v":10},{"x":20,"y":23,"v":10},{"x":21,"y":23,"v":8},{"x":22,"y":23,"v":1},{"x":23,"y":23,"v":1},{"x":24,"y":23,"v":1},{"x":25,"y":23,"v":8},{"x":26,"y":23,"v":10},{"x":27,"y":23,"v":10},{"x":28,"y":23,"v":14},{"x":29,"y":23,"v":17},{"x":30,"y":23,"v":17},{"x":32,"y":23,"v":19},{"x":33,"y":23,"v":19},{"x":37,"y":23,"v":14},{"x":41,"y":23,"v":12},{"x":42,"y":23,"v":14},
{"x":5,"y":22,"v":17},{"x":8,"y":22,"v":19},{"x":9,"y":22,"v":19},{"x":10,"y":22,"v":19},{"x":13,"y":22,"v":19},{"x":15,"y":22,"v":14},{"x":16,"y":22,"v":14},{"x":17,"y":22,"v":10},{"x":19,"y":22,"v":10},{"x":20,"y":22,"v":8},{"x":21,"y":22,"v":1},{"x":22,"y":22,"v":1},{"x":23,"y":22,"v":1},{"x":24,"y":22,"v":5},{"x":25,"y":22,"v":5},{"x":26,"y":22,"v":10},{"x":27,"y":22,"v":10},{"x":28,"y":22,"v":14},{"x":29,"y":22,"v":19},{"x":30,"y":22,"v":19},{"x":31,"y":22,"v":17},{"x":32,"y":22,"v":19},{"x":37,"y":22,"v":14},{"x":38,"y":22,"v":14},{"x":39,"y":22,"v":12},{"x":40,"y":22,"v":14},{"x":41,"y":22,"v":12},
{"x":3,"y":21,"v":19},{"x":4,"y":21,"v":19},{"x":5,"y":21,"v":19},{"x":8,"y":21,"v":19},{"x":9,"y":21,"v":19},{"x":10,"y":21,"v":17},{"x":14,"y":21,"v":14},{"x":15,"y":21,"v":14},{"x":16,"y":21,"v":10},{"x":17,"y":21,"v":8},{"x":18,"y":21,"v":5},{"x":19,"y":21,"v":8},{"x":20,"y":21,"v":1},{"x":21,"y":21,"v":1},{"x":22,"y":21,"v":1},{"x":23,"y":21,"v":8},{"x":24,"y":21,"v":10},{"x":25,"y":21,"v":8},{"x":26,"y":21,"v":12},{"x":27,"y":21,"v":10},{"x":28,"y":21,"v":14},{"x":29,"y":21,"v":17},{"x":30,"y":21,"v":17},{"x":33,"y":21,"v":19},{"x":40,"y":21,"v":12},{"x":41,"y":21,"v":12},{"x":43,"y":21,"v":12},
{"x":2,"y":20,"v":17},{"x":3,"y":20,"v":19},{"x":4,"y":20,"v":19},{"x":5,"y":20,"v":17},{"x":6,"y":20,"v":17},{"x":7,"y":20,"v":14},{"x":8,"y":20,"v":19},{"x":9,"y":20,"v":19},{"x":10,"y":20,"v":14},{"x":14,"y":20,"v":14},{"x":15,"y":20,"v":10},{"x":16,"y":20,"v":7},{"x":17,"y":20,"v":5},{"x":18,"y":20,"v":8},{"x":19,"y":20,"v":1},{"x":20,"y":20,"v":1},{"x":21,"y":20,"v":1},{"x":22,"y":20,"v":8},{"x":23,"y":20,"v":10},{"x":24,"y":20,"v":12},{"x":25,"y":20,"v":5},{"x":26,"y":20,"v":10},{"x":27,"y":20,"v":5},{"x":28,"y":20,"v":12},{"x":29,"y":20,"v":14},{"x":32,"y":20,"v":19},{"x":37,"y":20,"v":12},{"x":39,"y":20,"v":12},{"x":40,"y":20,"v":14},{"x":41,"y":20,"v":12},{"x":42,"y":20,"v":14},{"x":43,"y":20,"v":14},
{"x":2,"y":19,"v":19},{"x":3,"y":19,"v":19},{"x":4,"y":19,"v":19},{"x":5,"y":19,"v":17},{"x":6,"y":19,"v":17},{"x":7,"y":19,"v":14},{"x":8,"y":19,"v":17},{"x":9,"y":19,"v":19},{"x":10,"y":19,"v":17},{"x":11,"y":19,"v":19},{"x":12,"y":19,"v":17},{"x":13,"y":19,"v":14},{"x":14,"y":19,"v":14},{"x":15,"y":19,"v":10},{"x":16,"y":19,"v":10},{"x":17,"y":19,"v":8},{"x":18,"y":19,"v":1},{"x":19,"y":19,"v":1},{"x":20,"y":19,"v":1},{"x":21,"y":19,"v":8},{"x":22,"y":19,"v":10},{"x":23,"y":19,"v":10},{"x":24,"y":19,"v":10},{"x":25,"y":19,"v":10},{"x":26,"y":19,"v":10},{"x":27,"y":19,"v":10},{"x":28,"y":19,"v":12},{"x":29,"y":19,"v":12},{"x":30,"y":19,"v":14},{"x":31,"y":19,"v":19},{"x":32,"y":19,"v":19},{"x":36,"y":19,"v":14},{"x":39,"y":19,"v":14},{"x":40,"y":19,"v":14},{"x":41,"y":19,"v":14},{"x":42,"y":19,"v":14},{"x":43,"y":19,"v":14},
{"x":1,"y":18,"v":19},{"x":2,"y":18,"v":19},{"x":3,"y":18,"v":19},{"x":4,"y":18,"v":19},{"x":5,"y":18,"v":17},{"x":6,"y":18,"v":17},{"x":7,"y":18,"v":14},{"x":9,"y":18,"v":19},{"x":10,"y":18,"v":17},{"x":11,"y":18,"v":19},{"x":12,"y":18,"v":17},{"x":13,"y":18,"v":14},{"x":14,"y":18,"v":12},{"x":15,"y":18,"v":10},{"x":16,"y":18,"v":8},{"x":17,"y":18,"v":1},{"x":18,"y":18,"v":1},{"x":19,"y":18,"v":1},{"x":20,"y":18,"v":8},{"x":21,"y":18,"v":5},{"x":23,"y":18,"v":10},{"x":24,"y":18,"v":17},{"x":25,"y":18,"v":10},{"x":26,"y":18,"v":17},{"x":27,"y":18,"v":10},{"x":28,"y":18,"v":19},{"x":29,"y":18,"v":12},{"x":30,"y":18,"v":12},{"x":31,"y":18,"v":19},{"x":33,"y":18,"v":14},{"x":35,"y":18,"v":14},{"x":44,"y":18,"v":14},
{"x":1,"y":17,"v":19},{"x":2,"y":17,"v":19},{"x":3,"y":17,"v":19},{"x":4,"y":17,"v":19},{"x":5,"y":17,"v":14},{"x":6,"y":17,"v":14},{"x":7,"y":17,"v":12},{"x":8,"y":17,"v":14},{"x":9,"y":17,"v":19},{"x":10,"y":17,"v":14},{"x":11,"y":17,"v":19},{"x":12,"y":17,"v":14},{"x":13,"y":17,"v":12},{"x":14,"y":17,"v":10},{"x":15,"y":17,"v":8},{"x":16,"y":17,"v":1},{"x":17,"y":17,"v":1},{"x":18,"y":17,"v":1},{"x":19,"y":17,"v":8},{"x":20,"y":17,"v":5},{"x":21,"y":17,"v":8},{"x":22,"y":17,"v":10},{"x":24,"y":17,"v":14},{"x":25,"y":17,"v":10},{"x":27,"y":17,"v":10},{"x":30,"y":17,"v":10},{"x":31,"y":17,"v":12},{"x":33,"y":17,"v":12},{"x":35,"y":17,"v":14},{"x":37,"y":17,"v":10},{"x":38,"y":17,"v":10},{"x":40,"y":17,"v":14},{"x":44,"y":17,"v":14},{"x":46,"y":17,"v":14},
{"x":1,"y":16,"v":19},{"x":2,"y":16,"v":19},{"x":3,"y":16,"v":17},{"x":4,"y":16,"v":19},{"x":5,"y":16,"v":10},{"x":6,"y":16,"v":14},{"x":7,"y":16,"v":12},{"x":8,"y":16,"v":17},{"x":9,"y":16,"v":17},{"x":10,"y":16,"v":14},{"x":11,"y":16,"v":14},{"x":12,"y":16,"v":14},{"x":13,"y":16,"v":10},{"x":14,"y":16,"v":8},{"x":15,"y":16,"v":1},{"x":16,"y":16,"v":1},{"x":17,"y":16,"v":1},{"x":18,"y":16,"v":8},{"x":19,"y":16,"v":10},{"x":20,"y":16,"v":7},{"x":21,"y":16,"v":10},{"x":22,"y":16,"v":12},{"x":23,"y":16,"v":17},{"x":24,"y":16,"v":17},{"x":27,"y":16,"v":10},{"x":28,"y":16,"v":10},{"x":29,"y":16,"v":10},{"x":30,"y":16,"v":8},{"x":31,"y":16,"v":14},{"x":32,"y":16,"v":12},{"x":34,"y":16,"v":14},{"x":36,"y":16,"v":10},{"x":37,"y":16,"v":10},{"x":38,"y":16,"v":10},{"x":39,"y":16,"v":14},{"x":41,"y":16,"v":14},{"x":42,"y":16,"v":14},{"x":44,"y":16,"v":14},
{"x":1,"y":15,"v":19},{"x":2,"y":15,"v":17},{"x":3,"y":15,"v":10},{"x":4,"y":15,"v":12},{"x":5,"y":15,"v":10},{"x":6,"y":15,"v":10},{"x":7,"y":15,"v":10},{"x":8,"y":15,"v":8},{"x":9,"y":15,"v":12},{"x":10,"y":15,"v":12},{"x":11,"y":15,"v":12},{"x":12,"y":15,"v":10},{"x":13,"y":15,"v":8},{"x":14,"y":15,"v":1},{"x":15,"y":15,"v":1},{"x":16,"y":15,"v":1},{"x":17,"y":15,"v":8},{"x":18,"y":15,"v":10},{"x":19,"y":15,"v":10},{"x":20,"y":15,"v":10},{"x":21,"y":15,"v":14},{"x":22,"y":15,"v":14},{"x":23,"y":15,"v":14},{"x":24,"y":15,"v":14},{"x":27,"y":15,"v":10},{"x":28,"y":15,"v":10},{"x":30,"y":15,"v":5},{"x":31,"y":15,"v":10},{"x":32,"y":15,"v":10},{"x":33,"y":15,"v":10},{"x":35,"y":15,"v":10},{"x":36,"y":15,"v":10},{"x":37,"y":15,"v":10},{"x":38,"y":15,"v":10},{"x":41,"y":15,"v":14},{"x":42,"y":15,"v":14},{"x":44,"y":15,"v":14},{"x":45,"y":15,"v":14},
{"x":1,"y":14,"v":14},{"x":2,"y":14,"v":10},{"x":3,"y":14,"v":12},{"x":4,"y":14,"v":14},{"x":5,"y":14,"v":10},{"x":6,"y":14,"v":12},{"x":7,"y":14,"v":12},{"x":8,"y":14,"v":10},{"x":9,"y":14,"v":12},{"x":10,"y":14,"v":10},{"x":11,"y":14,"v":12},{"x":12,"y":14,"v":8},{"x":13,"y":14,"v":1},{"x":14,"y":14,"v":1},{"x":15,"y":14,"v":1},{"x":16,"y":14,"v":8},{"x":17,"y":14,"v":10},{"x":18,"y":14,"v":12},{"x":19,"y":14,"v":14},{"x":20,"y":14,"v":14},{"x":21,"y":14,"v":14},{"x":25,"y":14,"v":14},{"x":27,"y":14,"v":14},{"x":29,"y":14,"v":10},{"x":31,"y":14,"v":10},{"x":32,"y":14,"v":10},{"x":33,"y":14,"v":10},{"x":34,"y":14,"v":14},{"x":35,"y":14,"v":14},{"x":36,"y":14,"v":10},{"x":37,"y":14,"v":10},{"x":46,"y":14,"v":14},
{"x":1,"y":13,"v":14},{"x":2,"y":13,"v":10},{"x":3,"y":13,"v":10},{"x":4,"y":13,"v":10},{"x":5,"y":13,"v":5},{"x":6,"y":13,"v":10},{"x":7,"y":13,"v":8},{"x":8,"y":13,"v":5},{"x":9,"y":13,"v":10},{"x":10,"y":13,"v":5},{"x":11,"y":13,"v":8},{"x":12,"y":13,"v":1},{"x":13,"y":13,"v":1},{"x":14,"y":13,"v":1},{"x":15,"y":13,"v":8},{"x":16,"y":13,"v":10},{"x":17,"y":13,"v":12},{"x":18,"y":13,"v":14},{"x":19,"y":13,"v":14},{"x":22,"y":13,"v":19},{"x":24,"y":13,"v":19},{"x":26,"y":13,"v":14},{"x":27,"y":13,"v":14},{"x":29,"y":13,"v":10},{"x":30,"y":13,"v":5},{"x":31,"y":13,"v":10},{"x":32,"y":13,"v":8},{"x":33,"y":13,"v":10},{"x":34,"y":13,"v":10},{"x":35,"y":13,"v":10},{"x":36,"y":13,"v":12},{"x":37,"y":13,"v":10},{"x":43,"y":13,"v":14},{"x":44,"y":13,"v":14},{"x":45,"y":13,"v":14},{"x":46,"y":13,"v":14},{"x":47,"y":13,"v":14},{"x":48,"y":13,"v":14},
{"x":1,"y":12,"v":10},{"x":2,"y":12,"v":8},{"x":3,"y":12,"v":10},{"x":4,"y":12,"v":8},{"x":5,"y":12,"v":10},{"x":6,"y":12,"v":14},{"x":7,"y":12,"v":12},{"x":8,"y":12,"v":10},{"x":9,"y":12,"v":10},{"x":10,"y":12,"v":5},{"x":11,"y":12,"v":1},{"x":12,"y":12,"v":1},{"x":13,"y":12,"v":1},{"x":14,"y":12,"v":8},{"x":15,"y":12,"v":10},{"x":16,"y":12,"v":14},{"x":17,"y":12,"v":14},{"x":18,"y":12,"v":17},{"x":19,"y":12,"v":17},{"x":28,"y":12,"v":14},{"x":29,"y":12,"v":14},{"x":30,"y":12,"v":10},{"x":31,"y":12,"v":10},{"x":32,"y":12,"v":5},{"x":33,"y":12,"v":10},{"x":34,"y":12,"v":14},{"x":35,"y":12,"v":14},
{"x":1,"y":11,"v":10},{"x":2,"y":11,"v":5},{"x":3,"y":11,"v":7},{"x":4,"y":11,"v":5},{"x":5,"y":11,"v":7},{"x":6,"y":11,"v":12},{"x":7,"y":11,"v":12},{"x":8,"y":11,"v":10},{"x":9,"y":11,"v":8},{"x":10,"y":11,"v":1},{"x":11,"y":11,"v":1},{"x":12,"y":11,"v":1},{"x":13,"y":11,"v":8},{"x":14,"y":11,"v":12},{"x":15,"y":11,"v":12},{"x":16,"y":11,"v":14},{"x":17,"y":11,"v":19},{"x":18,"y":11,"v":19},{"x":19,"y":11,"v":19},{"x":29,"y":11,"v":14},{"x":31,"y":11,"v":14},{"x":32,"y":11,"v":10},{"x":34,"y":11,"v":14},{"x":35,"y":11,"v":14},
{"x":1,"y":10,"v":14},{"x":2,"y":10,"v":10},{"x":3,"y":10,"v":10},{"x":4,"y":10,"v":7},{"x":5,"y":10,"v":5},{"x":6,"y":10,"v":10},{"x":7,"y":10,"v":10},{"x":8,"y":10,"v":5},{"x":9,"y":10,"v":1},{"x":10,"y":10,"v":1},{"x":11,"y":10,"v":1},{"x":12,"y":10,"v":5},{"x":13,"y":10,"v":5},{"x":14,"y":10,"v":10},{"x":15,"y":10,"v":12},{"x":16,"y":10,"v":14},{"x":17,"y":10,"v":14},{"x":18,"y":10,"v":17},{"x":19,"y":10,"v":17},{"x":20,"y":10,"v":14},{"x":21,"y":10,"v":17},{"x":22,"y":10,"v":17},{"x":28,"y":10,"v":14},{"x":30,"y":10,"v":10},{"x":32,"y":10,"v":10},{"x":33,"y":10,"v":10},{"x":34,"y":10,"v":14},{"x":35,"y":10,"v":14},{"x":37,"y":10,"v":14},
{"x":1,"y":9,"v":14},{"x":2,"y":9,"v":12},{"x":3,"y":9,"v":10},{"x":4,"y":9,"v":5},{"x":5,"y":9,"v":7},{"x":6,"y":9,"v":8},{"x":7,"y":9,"v":8},{"x":8,"y":9,"v":1},{"x":9,"y":9,"v":1},{"x":10,"y":9,"v":1},{"x":11,"y":9,"v":8},{"x":12,"y":9,"v":10},{"x":13,"y":9,"v":10},{"x":14,"y":9,"v":14},{"x":15,"y":9,"v":14},{"x":16,"y":9,"v":17},{"x":17,"y":9,"v":19},{"x":18,"y":9,"v":19},{"x":19,"y":9,"v":19},{"x":20,"y":9,"v":19},{"x":21,"y":9,"v":19},{"x":22,"y":9,"v":19},{"x":27,"y":9,"v":14},{"x":28,"y":9,"v":14},{"x":29,"y":9,"v":14},{"x":31,"y":9,"v":14},{"x":34,"y":9,"v":14},{"x":35,"y":9,"v":14},{"x":37,"y":9,"v":14},
{"x":1,"y":8,"v":19},{"x":2,"y":8,"v":14},{"x":3,"y":8,"v":14},{"x":4,"y":8,"v":10},{"x":5,"y":8,"v":5},{"x":6,"y":8,"v":8},{"x":7,"y":8,"v":1},{"x":8,"y":8,"v":1},{"x":9,"y":8,"v":1},{"x":10,"y":8,"v":5},{"x":11,"y":8,"v":10},{"x":12,"y":8,"v":10},{"x":13,"y":8,"v":5},{"x":14,"y":8,"v":10},{"x":15,"y":8,"v":8},{"x":16,"y":8,"v":14},{"x":17,"y":8,"v":14},{"x":19,"y":8,"v":17},{"x":20,"y":8,"v":19},{"x":21,"y":8,"v":19},{"x":22,"y":8,"v":19},{"x":23,"y":8,"v":14},{"x":24,"y":8,"v":17},{"x":28,"y":8,"v":14},{"x":30,"y":8,"v":10},{"x":31,"y":8,"v":10},{"x":33,"y":8,"v":10},{"x":34,"y":8,"v":10},{"x":35,"y":8,"v":10},{"x":36,"y":8,"v":14},{"x":37,"y":8,"v":10},{"x":46,"y":8,"v":14},
{"x":1,"y":7,"v":19},{"x":2,"y":7,"v":14},{"x":3,"y":7,"v":12},{"x":4,"y":7,"v":10},{"x":5,"y":7,"v":5},{"x":6,"y":7,"v":1},{"x":7,"y":7,"v":1},{"x":8,"y":7,"v":1},{"x":9,"y":7,"v":8},{"x":10,"y":7,"v":10},{"x":11,"y":7,"v":12},{"x":12,"y":7,"v":12},{"x":13,"y":7,"v":8},{"x":14,"y":7,"v":12},{"x":15,"y":7,"v":10},{"x":16,"y":7,"v":12},{"x":17,"y":7,"v":12},{"x":18,"y":7,"v":14},{"x":19,"y":7,"v":14},{"x":20,"y":7,"v":14},{"x":27,"y":7,"v":14},{"x":30,"y":7,"v":10},{"x":31,"y":7,"v":10},{"x":32,"y":7,"v":10},{"x":33,"y":7,"v":10},{"x":34,"y":7,"v":10},{"x":35,"y":7,"v":10},{"x":36,"y":7,"v":10},{"x":37,"y":7,"v":10},{"x":46,"y":7,"v":14},{"x":47,"y":7,"v":14},{"x":48,"y":7,"v":14},
{"x":1,"y":6,"v":14},{"x":2,"y":6,"v":12},{"x":4,"y":6,"v":8},{"x":5,"y":6,"v":1},{"x":6,"y":6,"v":1},{"x":7,"y":6,"v":1},{"x":8,"y":6,"v":8},{"x":9,"y":6,"v":8},{"x":10,"y":6,"v":10},{"x":11,"y":6,"v":12},{"x":12,"y":6,"v":12},{"x":13,"y":6,"v":10},{"x":14,"y":6,"v":12},{"x":15,"y":6,"v":10},{"x":16,"y":6,"v":14},{"x":17,"y":6,"v":14},{"x":18,"y":6,"v":17},{"x":19,"y":6,"v":17},{"x":20,"y":6,"v":17},{"x":26,"y":6,"v":14},{"x":27,"y":6,"v":14},{"x":29,"y":6,"v":12},{"x":30,"y":6,"v":8},{"x":33,"y":6,"v":10},{"x":34,"y":6,"v":14},{"x":35,"y":6,"v":10},{"x":36,"y":6,"v":10},{"x":37,"y":6,"v":8},{"x":38,"y":6,"v":10},{"x":39,"y":6,"v":10},{"x":43,"y":6,"v":14},{"x":44,"y":6,"v":14},{"x":45,"y":6,"v":14},{"x":47,"y":6,"v":14},{"x":48,"y":6,"v":14},
{"x":1,"y":5,"v":14},{"x":2,"y":5,"v":10},{"x":3,"y":5,"v":8},{"x":4,"y":5,"v":1},{"x":5,"y":5,"v":1},{"x":6,"y":5,"v":1},{"x":7,"y":5,"v":5},{"x":8,"y":5,"v":5},{"x":9,"y":5,"v":7},{"x":10,"y":5,"v":5},{"x":11,"y":5,"v":7},{"x":12,"y":5,"v":10},{"x":13,"y":5,"v":5},{"x":14,"y":5,"v":10},{"x":15,"y":5,"v":10},{"x":16,"y":5,"v":10},{"x":17,"y":5,"v":14},{"x":18,"y":5,"v":17},{"x":19,"y":5,"v":17},{"x":20,"y":5,"v":17},{"x":21,"y":5,"v":17},{"x":22,"y":5,"v":17},{"x":26,"y":5,"v":14},{"x":27,"y":5,"v":12},{"x":28,"y":5,"v":10},{"x":29,"y":5,"v":10},{"x":30,"y":5,"v":5},{"x":31,"y":5,"v":10},{"x":33,"y":5,"v":5},{"x":34,"y":5,"v":10},{"x":35,"y":5,"v":10},{"x":36,"y":5,"v":10},{"x":37,"y":5,"v":10},{"x":38,"y":5,"v":10},{"x":39,"y":5,"v":10},{"x":43,"y":5,"v":14},{"x":44,"y":5,"v":14},{"x":46,"y":5,"v":14},{"x":47,"y":5,"v":14},{"x":48,"y":5,"v":14},
{"x":1,"y":4,"v":10},{"x":2,"y":4,"v":8},{"x":3,"y":4,"v":1},{"x":4,"y":4,"v":1},{"x":5,"y":4,"v":1},{"x":6,"y":4,"v":8},{"x":7,"y":4,"v":10},{"x":8,"y":4,"v":10},{"x":9,"y":4,"v":5},{"x":10,"y":4,"v":7},{"x":11,"y":4,"v":5},{"x":12,"y":4,"v":8},{"x":13,"y":4,"v":10},{"x":14,"y":4,"v":14},{"x":15,"y":4,"v":12},{"x":16,"y":4,"v":19},{"x":17,"y":4,"v":19},{"x":18,"y":4,"v":19},{"x":19,"y":4,"v":19},{"x":20,"y":4,"v":19},{"x":21,"y":4,"v":19},{"x":25,"y":4,"v":14},{"x":26,"y":4,"v":14},{"x":27,"y":4,"v":14},{"x":28,"y":4,"v":12},{"x":29,"y":4,"v":12},{"x":31,"y":4,"v":14},{"x":32,"y":4,"v":14},{"x":35,"y":4,"v":14},{"x":37,"y":4,"v":10},
{"x":1,"y":3,"v":8},{"x":2,"y":3,"v":1},{"x":3,"y":3,"v":1},{"x":4,"y":3,"v":1},{"x":5,"y":3,"v":8},{"x":7,"y":3,"v":12},{"x":8,"y":3,"v":12},{"x":9,"y":3,"v":10},{"x":10,"y":3,"v":10},{"x":11,"y":3,"v":7},{"x":12,"y":3,"v":10},{"x":13,"y":3,"v":10},{"x":14,"y":3,"v":12},{"x":15,"y":3,"v":10},{"x":16,"y":3,"v":19},{"x":17,"y":3,"v":19},{"x":18,"y":3,"v":19},{"x":19,"y":3,"v":19},{"x":20,"y":3,"v":19},{"x":21,"y":3,"v":19},{"x":25,"y":3,"v":14},{"x":28,"y":3,"v":7},{"x":29,"y":3,"v":10},{"x":30,"y":3,"v":10},{"x":31,"y":3,"v":14},{"x":32,"y":3,"v":14},{"x":33,"y":3,"v":14},{"x":35,"y":3,"v":14},{"x":36,"y":3,"v":10},{"x":37,"y":3,"v":10},{"x":38,"y":3,"v":10},{"x":39,"y":3,"v":14},{"x":40,"y":3,"v":14},{"x":41,"y":3,"v":14},{"x":43,"y":3,"v":14},
{"x":1,"y":2,"v":1},{"x":2,"y":2,"v":1},{"x":3,"y":2,"v":1},{"x":4,"y":2,"v":8},{"x":5,"y":2,"v":10},{"x":6,"y":2,"v":12},{"x":7,"y":2,"v":14},{"x":8,"y":2,"v":14},{"x":9,"y":2,"v":14},{"x":10,"y":2,"v":10},{"x":11,"y":2,"v":5},{"x":12,"y":2,"v":8},{"x":13,"y":2,"v":10},{"x":14,"y":2,"v":10},{"x":15,"y":2,"v":17},{"x":16,"y":2,"v":19},{"x":17,"y":2,"v":19},{"x":18,"y":2,"v":19},{"x":19,"y":2,"v":19},{"x":20,"y":2,"v":17},{"x":25,"y":2,"v":17},{"x":26,"y":2,"v":14},{"x":27,"y":2,"v":14},{"x":28,"y":2,"v":10},{"x":29,"y":2,"v":14},{"x":30,"y":2,"v":14},{"x":31,"y":2,"v":17},{"x":32,"y":2,"v":14},{"x":34,"y":2,"v":19},
{"x":1,"y":1,"v":1},{"x":2,"y":1,"v":1},{"x":3,"y":1,"v":8},{"x":4,"y":1,"v":10},{"x":5,"y":1,"v":14},{"x":6,"y":1,"v":14},{"x":7,"y":1,"v":19},{"x":8,"y":1,"v":19},{"x":9,"y":1,"v":14},{"x":10,"y":1,"v":14},{"x":11,"y":1,"v":10},{"x":12,"y":1,"v":10},{"x":13,"y":1,"v":14},{"x":14,"y":1,"v":14},{"x":15,"y":1,"v":19},{"x":16,"y":1,"v":19},{"x":17,"y":1,"v":19},{"x":18,"y":1,"v":19},{"x":26,"y":1,"v":17},{"x":27,"y":1,"v":8},{"x":28,"y":1,"v":8},{"x":29,"y":1,"v":17},{"x":30,"y":1,"v":17},{"x":31,"y":1,"v":12},{"x":32,"y":1,"v":19},{"x":33,"y":1,"v":19},{"x":39,"y":1,"v":10}
]},"layer":[{"mark":{"type":"rect","strokeWidth":0.4},"encoding":{"x":{"field":"x","type":"ordinal","scale":{"domain":[1,2,3,4,5,6,7,8,9,10,11,12,13,14,15,16,17,18,19,20,21,22,23,24,25,26,27,28,29,30,31,32,33,34,35,36,37,38,39,40,41,42,43,44,45,46,47,48,49,50,51,52,53,54,55,56,57],"paddingInner":0,"paddingOuter":0},"axis":{"values":[10,20,30,40,50],"labelAngle":0,"domain":false,"ticks":false,"grid":false,"title":"Residue index","labelFont":"Liberation Sans","labelFontWeight":"bold","labelFontSize":58,"labelColor":"#000","labelPadding":8,"titleFont":"Liberation Sans","titleFontWeight":"bold","titleFontSize":58,"titleColor":"#000","titlePadding":-4}},"y":{"field":"y","type":"ordinal","scale":{"domain":[57,56,55,54,53,52,51,50,49,48,47,46,45,44,43,42,41,40,39,38,37,36,35,34,33,32,31,30,29,28,27,26,25,24,23,22,21,20,19,18,17,16,15,14,13,12,11,10,9,8,7,6,5,4,3,2,1],"paddingInner":0,"paddingOuter":0},"axis":{"values":[10,20,30,40,50],"domain":false,"ticks":false,"grid":false,"title":"Residue index","labelFont":"Liberation Sans","labelFontWeight":"bold","labelFontSize":58,"labelColor":"#000","labelPadding":13,"titleFont":"Liberation Sans","titleFontWeight":"bold","titleFontSize":58,"titleColor":"#000","titlePadding":3.5}},"fill":{"field":"v","type":"quantitative","legend":null,"scale":{"type":"threshold","domain":[2.03,3.31,4.59,5.87,7.15,8.43,9.71,10.99,12.27,13.55,14.83,16.11,17.39,18.67,19.95],"range":["#ff0000","#ff2000","#ff4500","#ff6400","#ff8700","#ffa500","#a5bd84","#9db987","#90af8d","#88a994","#7fa29a","#7799a0","#6c92a9","#6089b0","#5080b8","#0000ff"]}},"stroke":{"field":"v","type":"quantitative","legend":null,"scale":{"type":"threshold","domain":[2.03,3.31,4.59,5.87,7.15,8.43,9.71,10.99,12.27,13.55,14.83,16.11,17.39,18.67,19.95],"range":["#ff0000","#ff2000","#ff4500","#ff6400","#ff8700","#ffa500","#a5bd84","#9db987","#90af8d","#88a994","#7fa29a","#7799a0","#6c92a9","#6089b0","#5080b8","#0000ff"]}}}},{"transform":[{"filter":"false"}],"mark":{"type":"rect"},"encoding":{"x":{"field":"x","type":"ordinal","axis":{"orient":"top","values":[10,20,30,40,50],"labels":false,"domain":false,"grid":false,"title":null,"tickSize":5,"tickColor":"#333333"}},"y":{"field":"y","type":"ordinal","axis":{"orient":"right","values":[10,20,30,40,50],"labels":false,"domain":false,"grid":false,"title":null,"tickSize":5,"tickColor":"#333333"}}}}],"resolve":{"axis":{"x":"independent","y":"independent"}}},{"width":13,"height":1697,"view":{"stroke":"#333333","strokeWidth":1.5},"data":{"values":[{"lo":0.75,"hi":2.03,"v":1.4},{"lo":2.03,"hi":3.31,"v":2.7},{"lo":3.31,"hi":4.59,"v":4},{"lo":4.59,"hi":5.87,"v":5.2},{"lo":5.87,"hi":7.15,"v":6.5},{"lo":7.15,"hi":8.43,"v":7.8},{"lo":8.43,"hi":9.71,"v":9.1},{"lo":9.71,"hi":10.99,"v":10.4},{"lo":10.99,"hi":12.27,"v":11.6},{"lo":12.27,"hi":13.55,"v":12.9},{"lo":13.55,"hi":14.83,"v":14.2},{"lo":14.83,"hi":16.11,"v":15.5},{"lo":16.11,"hi":17.39,"v":16.8},{"lo":17.39,"hi":18.67,"v":18},{"lo":18.67,"hi":19.95,"v":19.3},{"lo":19.95,"hi":21.25,"v":20.6}]},"mark":{"type":"rect","strokeWidth":0.4},"encoding":{"y":{"field":"lo","type":"quantitative","scale":{"domain":[0.75,21.25],"nice":false,"zero":false},"axis":{"orient":"right","values":[5,10,15,20],"domain":false,"grid":false,"title":null,"tickSize":5,"tickColor":"#333333","labelFont":"Liberation Sans","labelFontWeight":"bold","labelFontSize":48,"labelColor":"#000","labelPadding":3}},"y2":{"field":"hi"},"fill":{"field":"v","type":"quantitative","legend":null,"scale":{"type":"threshold","domain":[2.03,3.31,4.59,5.87,7.15,8.43,9.71,10.99,12.27,13.55,14.83,16.11,17.39,18.67,19.95],"range":["#ff0000","#ff2000","#ff4500","#ff6400","#ff8700","#ffa500","#a5bd84","#9db987","#90af8d","#88a994","#7fa29a","#7799a0","#6c92a9","#6089b0","#5080b8","#0000ff"]}},"stroke":{"field":"v","type":"quantitative","legend":null,"scale":{"type":"threshold","domain":[2.03,3.31,4.59,5.87,7.15,8.43,9.71,10.99,12.27,13.55,14.83,16.11,17.39,18.67,19.95],"range":["#ff0000","#ff2000","#ff4500","#ff6400","#ff8700","#ffa500","#a5bd84","#9db987","#90af8d","#88a994","#7fa29a","#7799a0","#6c92a9","#6089b0","#5080b8","#0000ff"]}}}}]}
